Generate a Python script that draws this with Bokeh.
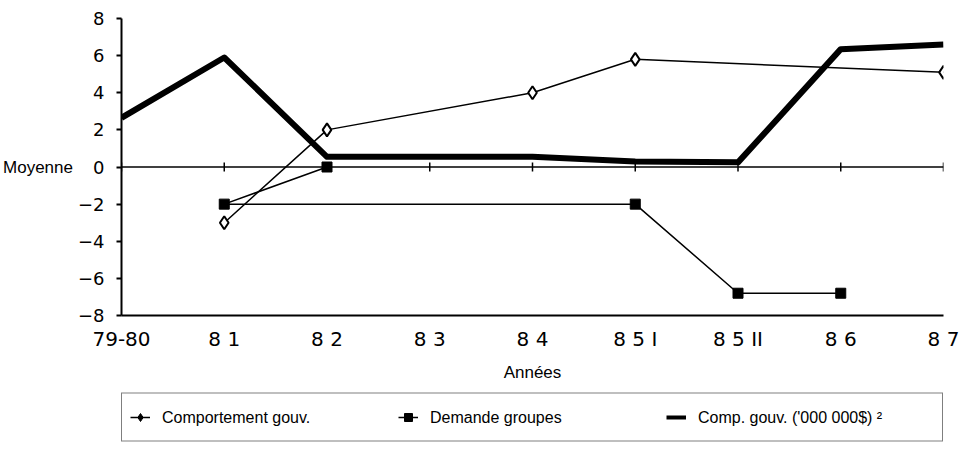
from bokeh.plotting import figure
from bokeh.layouts import column
from bokeh.models import FixedTicker, Span, Legend, LegendItem, Range1d
from bokeh.embed import file_html
from bokeh.resources import INLINE

# ---- data ----
years = ["79-80", "8 1", "8 2", "8 3", "8 4", "8 5 I", "8 5 II", "8 6", "8 7"]
comportement_vals = [None, -3.0, 2.0, None, 4.0, 5.8, None, None, 5.1]
demande_cats = ["8 2", "8 1", "8 5 I", "8 5 II", "8 6"]
demande_vals = [0.0, -2.0, -2.0, -6.8, -6.8]
comp_dollars_vals = [2.65, 5.9, 0.55, 0.55, 0.55, 0.3, 0.25, 6.35, 6.6]
y_ticks = [-8, -6, -4, -2, 0, 2, 4, 6, 8]
legend_labels = ["Comportement gouv.", "Demande groupes", "Comp. gouv. ('000 000$) \u00b2"]

FONT = "Liberation Sans"
NUMFONT = "DejaVu Sans"

p = figure(frame_width=822, frame_height=297, x_range=Range1d(0, len(years) - 1), y_range=Range1d(-8, 8),
           output_backend="svg", toolbar_location=None,
           min_border_left=117, min_border_right=26, min_border_top=18, min_border_bottom=77)
p.xgrid.visible = False
p.ygrid.visible = False
p.outline_line_color = None
p.background_fill_color = "white"
p.border_fill_color = "white"

# x axis (drawn at the bottom, -8)
xa = p.xaxis[0]
xa.ticker = FixedTicker(ticks=list(range(len(years))))
xa.major_label_overrides = {i: lab for i, lab in enumerate(years)}
xa.major_tick_line_color = None
xa.minor_tick_line_color = None
xa.axis_line_width = 2
xa.axis_line_color = "black"
xa.major_label_text_font = NUMFONT
xa.major_label_text_font_size = "20px"
xa.major_label_text_color = "black"
xa.major_label_standoff = 5
xa.axis_label = "Années"
xa.axis_label_text_font = FONT
xa.axis_label_text_font_size = "17px"
xa.axis_label_text_font_style = "normal"
xa.axis_label_text_color = "black"
xa.axis_label_standoff = 9

ya = p.yaxis[0]
ya.ticker = FixedTicker(ticks=y_ticks)
ya.major_tick_out = 5
ya.major_tick_in = 0
ya.major_tick_line_width = 2
ya.minor_tick_line_color = None
ya.axis_line_width = 2
ya.axis_line_color = "black"
ya.major_label_text_font = NUMFONT
ya.major_label_text_font_size = "18px"
ya.major_label_text_color = "black"
ya.major_label_standoff = 12
ya.axis_label = "Moyenne"
ya.axis_label_text_font = FONT
ya.axis_label_text_font_size = "17px"
ya.axis_label_text_font_style = "normal"
ya.axis_label_text_color = "black"
ya.axis_label_standoff = 2
if "axis_label_orientation" in ya.properties():
    ya.axis_label_orientation = "horizontal"

# zero line with category ticks
p.add_layout(Span(location=0, dimension="width", line_color="black", line_width=1.5))
p.scatter(x=list(range(len(years))), y=[0] * len(years), marker="dash", angle=1.5708,
          size=9, line_color="black", line_width=1.5)

# Comp. gouv. ('000 000$) - thick line
xs3 = list(range(len(years)))
p.line(xs3, comp_dollars_vals, line_color="black", line_width=6, line_join="round")

# Demande groupes
xs2 = [years.index(c) for c in demande_cats]
p.line(xs2, demande_vals, line_color="black", line_width=1.5)
p.scatter(xs2, demande_vals, marker="square", size=10, fill_color="black", line_color="black")

# Comportement gouv.
xs1 = [i for i, v in enumerate(comportement_vals) if v is not None]
ys1 = [v for v in comportement_vals if v is not None]
p.line(xs1, ys1, line_color="black", line_width=1.5)
p.scatter(xs1, ys1, marker="diamond", size=13, fill_color="white", line_color="black", line_width=2)

# ---- legend strip (same series, hidden, used only for the legend keys) ----
lg = figure(frame_width=822, frame_height=50, x_range=Range1d(0, len(years) - 1), y_range=Range1d(-8, 8),
            output_backend="svg", toolbar_location=None,
            x_axis_location=None, y_axis_location=None,
            min_border_left=117, min_border_right=26, min_border_top=0, min_border_bottom=0)
lg.xgrid.visible = False
lg.ygrid.visible = False
lg.outline_line_color = None
lg.background_fill_color = "white"
lg.border_fill_color = "white"
l1a = lg.line(xs1, ys1, line_color="black", line_width=1.5, visible=False)
l1b = lg.scatter(xs1, ys1, marker="diamond", size=12, fill_color="black", line_color="black", visible=False)
l2a = lg.line(xs2, demande_vals, line_color="black", line_width=1.5, visible=False)
l2b = lg.scatter(xs2, demande_vals, marker="square", size=10, fill_color="black", line_color="black", visible=False)
l3 = lg.line(xs3, comp_dollars_vals, line_color="black", line_width=4, visible=False)

legend = Legend(items=[LegendItem(label=legend_labels[0], renderers=[l1a, l1b]),
                       LegendItem(label=legend_labels[1], renderers=[l2a, l2b]),
                       LegendItem(label=legend_labels[2], renderers=[l3])],
                orientation="horizontal", location="center",
                border_line_color="black", border_line_width=1.5,
                padding=8, spacing=0, margin=0,
                glyph_width=20, glyph_height=31, label_standoff=12, label_width=236,
                label_text_font=FONT, label_text_font_size="16px", label_text_color="black",
                background_fill_color="white", click_policy="none")
lg.add_layout(legend)

layout = column(p, lg, spacing=0)
open("out.html", "w").write(file_html(layout, INLINE))
